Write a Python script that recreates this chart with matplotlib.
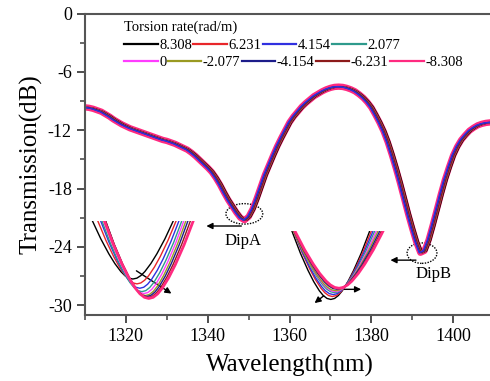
import numpy as np
import matplotlib
matplotlib.use("Agg")
import matplotlib.pyplot as plt
from matplotlib.patches import Ellipse
from matplotlib.lines import Line2D

plt.rcParams['font.family'] = ['Liberation Serif', 'DejaVu Serif']
plt.rcParams['axes.unicode_minus'] = False

# torsion rates (rad/m) and their line colours
rates = ["8.308", "6.231", "4.154", "2.077", "0", "-2.077", "-4.154", "-6.231", "-8.308"]
colors = ["#000000", "#e8262a", "#3030e0", "#2e9a8c", "#ff3cff",
          "#9a9a22", "#1c1c8a", "#8c1a1a", "#ff2a80"]

# transmission spectrum, 1 nm steps from 1310 to 1410 nm
wl = np.arange(1310, 1411)
trans = [-9.65, -9.7, -9.8, -9.95, -10.1, -10.35, -10.6, -10.9, -11.15, -11.4,
         -11.6, -11.8, -11.95, -12.1, -12.25, -12.4, -12.55, -12.7, -12.85, -13.0,
         -13.1, -13.25, -13.4, -13.6, -13.8, -14.0, -14.3, -14.65, -15.05, -15.45,
         -15.85, -16.3, -16.9, -17.6, -18.4, -19.15, -19.8, -20.45, -21.0, -21.25,
         -20.9, -20.1, -19.0, -17.8, -16.6, -15.6, -14.6, -13.65, -12.8, -12.0,
         -11.2, -10.6, -10.1, -9.6, -9.2, -8.85, -8.5, -8.25, -8.0, -7.8,
         -7.65, -7.55, -7.52, -7.55, -7.65, -7.8, -8.0, -8.3, -8.65, -9.1,
         -9.65, -10.4, -11.2, -12.1, -13.2, -14.5, -15.9, -17.4, -19.0, -20.6,
         -22.1, -23.5, -24.6, -24.4, -23.3, -21.8, -20.2, -18.6, -17.1, -15.8,
         -14.6, -13.7, -13.0, -12.5, -12.05, -11.75, -11.5, -11.35, -11.25, -11.2,
         -11.2]
# small wavelength shift of each torsion curve (nm)
shift = [0.55, 0.4, -0.3, 0.25, 0.1, 0.0, -0.15, 0.2, 0.0]

# zoomed sketches of the dips: V template + per-curve minimum / branch top
tpl_u = [-1.25, -1.0, -0.8, -0.6, -0.45, -0.3, -0.2, -0.1, 0, 0.1, 0.2, 0.3, 0.45, 0.6, 0.8, 1.0, 1.25]
tpl_v = [1.4, 1.0, 0.7, 0.44, 0.27, 0.13, 0.06, 0.015, 0, 0.015, 0.06, 0.13, 0.27, 0.44, 0.7, 1.0, 1.4]

dipA_xmin = [1321.7, 1322.7, 1323.4, 1323.9, 1324.4, 1324.8, 1325.1, 1325.4, 1325.6]
dipA_ymin = [-27.3, -27.8, -28.25, -28.6, -28.8, -29.0, -29.1, -29.2, -29.3]
dipA_xtop = [1331.5, 1332.2, 1332.9, 1333.6, 1334.1, 1334.6, 1335.1, 1335.7, 1336.4]
dipA_top = -21.4

dipB_xmin = [1370.1, 1370.5, 1370.7, 1371.0, 1371.2, 1371.3, 1371.6, 1371.8, 1372.1]
dipB_ymin = [-29.4, -29.1, -28.9, -28.7, -28.6, -28.5, -28.35, -28.3, -28.25]
dipB_xtop = [1379.4, 1379.8, 1380.2, 1380.6, 1381.0, 1381.4, 1381.8, 1382.2, 1382.6]
dipB_top = -22.6

fig = plt.figure(figsize=(4.9, 3.81), dpi=100)
ax = fig.add_axes([85 / 490, 1 - 315 / 381, 409 / 490, 301.5 / 381])

# main spectra: pink drawn wide underneath, the rest on top
ax.plot(wl + shift[8], trans, color=colors[8], lw=4.6, solid_capstyle='butt')
for i in [0, 1, 3, 5, 4, 7, 6, 2]:
    ax.plot(wl + shift[i], trans, color=colors[i], lw=1.0)

ax.set_xlim(1310, 1410)
ax.set_ylim(-31, 0)
ax.set_xticks([1320, 1340, 1360, 1380, 1400])
ax.set_xticks(np.arange(1310, 1411, 10), minor=True)
ax.set_yticks([0, -6, -12, -18, -24, -30])
ax.set_yticks(np.arange(-30, 1, 3), minor=True)
ax.tick_params(which='major', direction='out', length=6, width=1.3, labelsize=13,
               colors='#404040', labelcolor='black')
ax.tick_params(which='minor', direction='out', length=3.5, width=1.1, colors='#404040')
for s in ['left', 'bottom', 'top']:
    ax.spines[s].set_color('#555555')
    ax.spines[s].set_linewidth(1.5)
ax.spines['right'].set_visible(False)
ax.set_xlabel("Wavelength(nm)", fontsize=18, labelpad=6)
ax.set_ylabel("Transmission(dB)", fontsize=18, labelpad=4)


def sketch(box, xmin, ymin, xtop, top, lw_last):
    sub = ax.inset_axes([box[0], box[2], box[1] - box[0], box[3] - box[2]],
                        transform=ax.transData)
    sub.set_xlim(box[0], box[1])
    sub.set_ylim(box[2], box[3])
    sub.axis('off')
    sub.patch.set_visible(False)
    for i in range(len(rates)):
        w = xtop[i] - xmin[i]
        h = top - ymin[i]
        xs = [xmin[i] + u * w for u in tpl_u]
        ys = [ymin[i] + v * h for v in tpl_v]
        sub.plot(xs, ys, color=colors[i], lw=lw_last if i == 8 else 1.0)


sketch((1310.5, 1337.5, -29.9, -21.3), dipA_xmin, dipA_ymin, dipA_xtop, dipA_top, 2.0)
sketch((1358.5, 1384.5, -30.2, -22.4), dipB_xmin, dipB_ymin, dipB_xtop, dipB_top, 2.0)

arrow = dict(arrowstyle='-|>', color='black', lw=1.0, mutation_scale=9)
ax.annotate("", xy=(1331.7, -28.95), xytext=(1322.0, -26.3), arrowprops=arrow)
ax.annotate("", xy=(1365.6, -29.95), xytext=(1368.9, -28.85), arrowprops=arrow)
ax.annotate("", xy=(1378.2, -28.36), xytext=(1371.3, -28.36), arrowprops=arrow)

# dip markers
ax.add_patch(Ellipse((1348.96, -20.6), 9.0, 2.1, fill=False, ec='black', lw=1.0, ls=(0, (1, 1))))
ax.add_patch(Ellipse((1392.4, -24.64), 7.3, 2.1, fill=False, ec='black', lw=1.0, ls=(0, (1, 1))))
ax.annotate("", xy=(1339.0, -21.85), xytext=(1348.9, -21.85), arrowprops=arrow)
ax.annotate("", xy=(1384.0, -25.36), xytext=(1391.6, -25.36), arrowprops=arrow)
ax.text(1348.6, -23.4, "DipA", fontsize=12, ha='center', va='center')
ax.text(1395.3, -26.8, "DipB", fontsize=12, ha='center', va='center')

# legend, laid out in two rows like the original
fig.text(124 / 490, 1 - 27.5 / 381, "Torsion rate(rad/m)", fontsize=10.5,
         ha='left', va='center')
handles = [Line2D([], [], color=c, lw=1.6) for c in colors]
leg_kw = dict(frameon=False, fontsize=10.5, handlelength=2.3, handletextpad=0.1,
              columnspacing=0.1, borderpad=0, borderaxespad=0, loc='center left')
leg1 = fig.legend(handles[:4], rates[:4], ncol=4,
                  bbox_to_anchor=(124 / 490, 1 - 45 / 381), **leg_kw)
leg2 = fig.legend(handles[4:], rates[4:], ncol=5,
                  bbox_to_anchor=(124 / 490, 1 - 62.5 / 381), **leg_kw)

fig.savefig("out.png", dpi=100)
